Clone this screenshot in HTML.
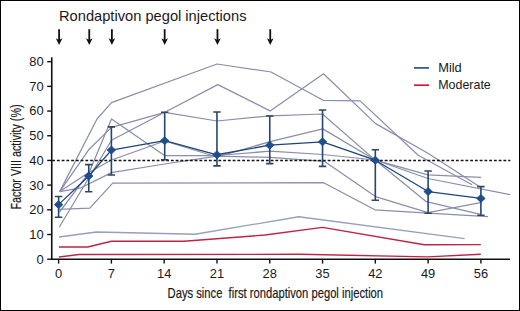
<!DOCTYPE html>
<html><head><meta charset="utf-8">
<style>
html,body{margin:0;padding:0;background:#fff;}
body{width:520px;height:311px;overflow:hidden;}
svg{display:block;font-family:"Liberation Sans",sans-serif;}
</style></head>
<body>
<svg width="520" height="311" viewBox="0 0 520 311">
<rect x="0" y="0" width="520" height="311" fill="#fff"/>
<rect x="0.5" y="0.5" width="519" height="310" fill="none" stroke="#000" stroke-width="1"/>
<text x="59" y="21" font-size="14.6" fill="#1a1a1a" textLength="187.5" lengthAdjust="spacingAndGlyphs">Rondaptivon pegol injections</text>
<g stroke="#111" stroke-width="1.8" fill="#111">
<path d="M59.10 29.2V40" fill="none"/><path d="M55.80 38.2L59.10 45L62.40 38.2L59.10 40Z" stroke="none"/>
<path d="M89.26 29.2V40" fill="none"/><path d="M85.96 38.2L89.26 45L92.56 38.2L89.26 40Z" stroke="none"/>
<path d="M111.89 29.2V40" fill="none"/><path d="M108.59 38.2L111.89 45L115.19 38.2L111.89 40Z" stroke="none"/>
<path d="M164.67 29.2V40" fill="none"/><path d="M161.37 38.2L164.67 45L167.97 38.2L164.67 40Z" stroke="none"/>
<path d="M217.46 29.2V40" fill="none"/><path d="M214.16 38.2L217.46 45L220.76 38.2L217.46 40Z" stroke="none"/>
<path d="M270.25 29.2V40" fill="none"/><path d="M266.95 38.2L270.25 45L273.55 38.2L270.25 40Z" stroke="none"/>
</g>
<g fill="none" stroke="#8b8eab" stroke-width="1.25" stroke-linejoin="round">
<polyline points="59.70,191.60 97.00,119.00 111.50,102.70 217.00,64.00 271.00,72.00 323.20,100.30 360.10,100.90 418.20,155.30 472.10,184.80"/>
<polyline points="59.70,191.60 89.20,149.20 111.50,127.40 164.80,112.30 217.00,121.00 270.00,115.80 322.40,114.00 375.20,160.10 428.00,174.80 481.00,177.30"/>
<polyline points="59.20,227.20 111.50,140.30 164.80,112.30 217.80,84.60 270.10,110.90 323.50,73.80 375.60,123.60 428.00,153.20 480.50,187.20"/>
<polyline points="59.50,212.00 88.90,173.00 111.50,119.00 164.50,155.50 217.00,155.50 270.00,151.20 323.00,154.50 375.20,160.00 426.30,201.70 480.50,214.30"/>
<polyline points="59.70,191.60 88.90,172.50 111.50,160.00 164.70,141.00 217.00,157.00 270.00,141.60 322.80,128.90 375.20,160.00 428.00,178.50 510.30,194.70"/>
<polyline points="59.70,191.60 81.00,187.80 111.50,172.60 164.50,164.00 217.00,156.20 270.00,157.30 324.60,161.40 375.50,196.60 428.00,212.60 480.50,202.60"/>
<polyline points="58.80,209.30 89.80,208.10 112.70,183.20 323.70,182.70 374.80,209.80 428.00,213.20 488.00,216.70"/>
</g>
<g fill="none" stroke="#96a0b8" stroke-width="1.3" stroke-linejoin="round">
<polyline points="59.00,237.00 96.50,232.00 195.00,234.25 298.75,216.75 464.60,238.70"/>
</g>
<g fill="none" stroke="#bd2446" stroke-width="1.4" stroke-linejoin="round">
<polyline points="59.00,247.00 87.75,247.00 111.50,241.25 184.00,241.30 265.00,235.00 322.50,227.40 424.20,244.80 480.80,244.60"/>
<polyline points="59.00,257.00 79.00,254.50 300.00,254.30 427.70,256.90 480.80,254.20"/>
</g>
<path d="M51.75 57.3V259.2H510" stroke="#111" stroke-width="1.6" fill="none"/>
<g stroke="#111" stroke-width="1.4" fill="none">
<path d="M47.2 259.20H51.75"/><path d="M47.2 234.51H51.75"/><path d="M47.2 209.82H51.75"/><path d="M47.2 185.13H51.75"/><path d="M47.2 160.44H51.75"/><path d="M47.2 135.75H51.75"/><path d="M47.2 111.06H51.75"/><path d="M47.2 86.37H51.75"/><path d="M47.2 61.68H51.75"/><path d="M58.60 259.2V263.6"/><path d="M111.39 259.2V263.6"/><path d="M164.17 259.2V263.6"/><path d="M216.96 259.2V263.6"/><path d="M269.75 259.2V263.6"/><path d="M322.54 259.2V263.6"/><path d="M375.32 259.2V263.6"/><path d="M428.11 259.2V263.6"/><path d="M480.90 259.2V263.6"/></g>
<g font-size="12.9" fill="#1a1a1a" text-anchor="end">
<text x="43.6" y="263.60">0</text><text x="43.6" y="238.91">10</text><text x="43.6" y="214.22">20</text><text x="43.6" y="189.53">30</text><text x="43.6" y="164.84">40</text><text x="43.6" y="140.15">50</text><text x="43.6" y="115.46">60</text><text x="43.6" y="90.77">70</text><text x="43.6" y="66.08">80</text></g>
<g font-size="12.9" fill="#1a1a1a" text-anchor="middle">
<text x="58.60" y="278.4">0</text><text x="111.39" y="278.4">7</text><text x="164.17" y="278.4">14</text><text x="216.96" y="278.4">21</text><text x="269.75" y="278.4">28</text><text x="322.54" y="278.4">35</text><text x="375.32" y="278.4">42</text><text x="428.11" y="278.4">49</text><text x="480.90" y="278.4">56</text></g>
<path d="M52.15 160.5H510.4" stroke="#111" stroke-width="1.6" stroke-dasharray="2.8 1.9505" fill="none"/>
<g stroke="#25476f" stroke-width="1.6" fill="none">
<path d="M58.60 196.49V217.23"/><path d="M88.76 164.64V191.80"/><path d="M111.39 126.86V175.01"/><path d="M164.70 112.29V159.70"/><path d="M216.96 112.05V165.87"/><path d="M269.75 116.00V163.65"/><path d="M322.54 110.07V166.37"/><path d="M375.32 149.82V200.19"/><path d="M428.11 171.06V213.28"/><path d="M480.90 186.61V215.25"/></g>
<g stroke="#34465e" stroke-width="1.6" fill="none">
<path d="M54.90 196.49H62.30M54.90 217.23H62.30"/><path d="M85.06 164.64H92.46M85.06 191.80H92.46"/><path d="M107.69 126.86H115.09M107.69 175.01H115.09"/><path d="M161.00 112.29H168.40M161.00 159.70H168.40"/><path d="M213.26 112.05H220.66M213.26 165.87H220.66"/><path d="M266.05 116.00H273.45M266.05 163.65H273.45"/><path d="M318.84 110.07H326.24M318.84 166.37H326.24"/><path d="M371.62 149.82H379.02M371.62 200.19H379.02"/><path d="M424.41 171.06H431.81M424.41 213.28H431.81"/><path d="M477.20 186.61H484.60M477.20 215.25H484.60"/></g>
<polyline fill="none" stroke="#1e4679" stroke-width="1.3" stroke-linejoin="round" points="58.60,204.64 88.76,175.99 111.39,150.07 164.70,140.69 216.96,154.76 269.75,145.13 322.54,141.80 375.32,160.19 428.11,191.55 480.90,198.46"/>
<g fill="#1b4f8f" stroke="#1e4679" stroke-width="0.7" stroke-linejoin="miter">
<path d="M58.60 200.64L62.90 204.64L58.60 208.64L54.30 204.64Z"/><path d="M88.76 171.99L93.06 175.99L88.76 179.99L84.46 175.99Z"/><path d="M111.39 146.07L115.69 150.07L111.39 154.07L107.09 150.07Z"/><path d="M164.70 136.69L169.00 140.69L164.70 144.69L160.40 140.69Z"/><path d="M216.96 150.76L221.26 154.76L216.96 158.76L212.66 154.76Z"/><path d="M269.75 141.13L274.05 145.13L269.75 149.13L265.45 145.13Z"/><path d="M322.54 137.80L326.84 141.80L322.54 145.80L318.24 141.80Z"/><path d="M375.32 156.19L379.62 160.19L375.32 164.19L371.02 160.19Z"/><path d="M428.11 187.55L432.41 191.55L428.11 195.55L423.81 191.55Z"/><path d="M480.90 194.46L485.20 198.46L480.90 202.46L476.60 198.46Z"/></g>
<text x="167.6" y="297.7" font-size="14.8" fill="#1a1a1a" stroke="#1a1a1a" stroke-width="0.2" textLength="215.5" lengthAdjust="spacingAndGlyphs" xml:space="preserve">Days since  first rondaptivon pegol injection</text>
<text x="0" y="0" font-size="14.6" fill="#1a1a1a" stroke="#1a1a1a" stroke-width="0.2" transform="translate(21 209.5) rotate(-90)" textLength="105" lengthAdjust="spacingAndGlyphs">Factor VIII activity (%)</text>
<path d="M414 67.9H429" stroke="#2a5590" stroke-width="1.7"/>
<path d="M414 85.2H429" stroke="#c41f3a" stroke-width="1.7"/>
<text x="438.2" y="71.7" font-size="12.2" fill="#1a1a1a" textLength="23.6" lengthAdjust="spacingAndGlyphs">Mild</text>
<text x="438.2" y="88.7" font-size="12.2" fill="#1a1a1a" textLength="52.6" lengthAdjust="spacingAndGlyphs">Moderate</text>
</svg>
</body></html>
